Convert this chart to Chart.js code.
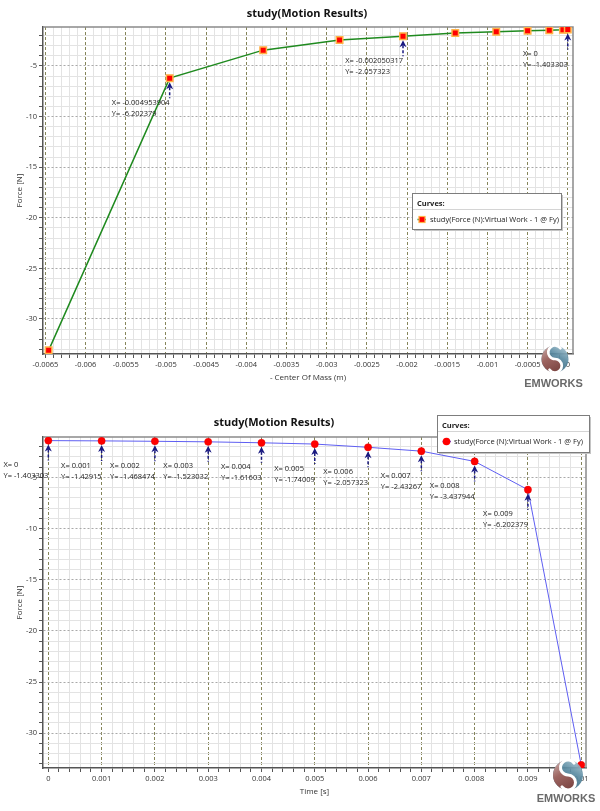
<!DOCTYPE html>
<html><head><meta charset="utf-8">
<script src="https://cdn.jsdelivr.net/npm/chart.js@4.4.1/dist/chart.umd.min.js"></script>
<style>
html,body{margin:0;padding:0;background:#fff;}
#wrap{position:relative;width:600px;height:811px;overflow:hidden;}
canvas{position:absolute;left:0;}
</style></head><body>
<div id="wrap">
<canvas id="c1" width="600" height="400" style="top:0;width:600px;height:400px"></canvas>
<canvas id="c2" width="600" height="411" style="top:400px;width:600px;height:411px"></canvas>
</div>
<script>
// ---- text ----
const chartTitle = 'study(Motion Results)';
const seriesLabel = 'study(Force (N):Virtual Work - 1 @ Fy)';
const legendHeader = 'Curves:';
const comAxisTitle = '- Center Of Mass (m)';
const timeAxisTitle = 'Time [s]';
const forceAxisTitle = 'Force [N]';
const logoText = 'EMWORKS';

// ---- data: chart 1 (force vs - center of mass) ----
const centerOfMass = [-0.00646, -0.004953904, -0.00379, -0.00284, -0.002050317, -0.0014, -0.00089, -0.0005, -0.00023, -0.00006, 0];
const forceByCom   = [-33.1, -6.202379, -3.437944, -2.43267, -2.057323, -1.74009, -1.61603, -1.523032, -1.468474, -1.42915, -1.403303];
const comAnnotated = [1, 4, 10];

// ---- data: chart 2 (force vs time) ----
const timeS       = [0, 0.001, 0.002, 0.003, 0.004, 0.005, 0.006, 0.007, 0.008, 0.009, 0.01];
const forceByTime = [-1.403303, -1.42915, -1.468474, -1.523032, -1.61603, -1.74009, -2.057323, -2.43267, -3.437944, -6.202379, -33.1];
const timeAnnotated = [0, 1, 2, 3, 4, 5, 6, 7, 8, 9];

// ---- axis ranges / ticks ----
const comAxis   = {min: -0.00653, max: 0.000065, minor: 0.0001, major: 0.0005};
const timeAxis  = {min: -0.0001, max: 0.01009, minor: 0.0002, major: 0.001};
const force1Axis = {min: -33.46, max: -1.15, minor: 1, major: 5};
const force2Axis = {min: -33.4, max: -1.05, minor: 1, major: 5};

const FONT = '"Open Sans","Noto Sans",sans-serif';
Chart.defaults.font.family = FONT;
Chart.defaults.color = '#333';

const fmtTick = v => String(parseFloat(Number(v).toFixed(7)));
const isMultiple = (v, step) => Math.abs(v / step - Math.round(v / step)) < 1e-6;

function axis(r, o) {
  return {
    type: 'linear',
    min: r.min, max: r.max,
    afterFit: s => { if (o.isY) s.width = o.size; else s.height = o.size; },
    grid: {
      color: c => (c.tick && isMultiple(c.tick.value, r.major)) ? o.majorColor : '#e3e3e3',
      lineWidth: 1,
      tickColor: '#555',
      tickLength: 4,
      tickWidth: 1,
      tickBorderDash: []
    },
    border: {
      display: true, color: '#555', width: 1.5,
      dash: c => (c.tick && isMultiple(c.tick.value, r.major)) ? o.majorDash : []
    },
    ticks: {
      stepSize: r.minor, autoSkip: false, includeBounds: false, maxTicksLimit: 1000,
      maxRotation: 0, minRotation: 0, padding: 2, color: '#333',
      font: {size: 7.5},
      callback: v => isMultiple(v, r.major) ? fmtTick(v) : ''
    },
    title: {display: true, text: o.title, color: '#333', font: {size: 8}, padding: o.titlePad}
  };
}

function drawLogo(ctx, L) {
  const {cx, cy, r} = L;
  ctx.save();
  ctx.globalAlpha = 0.92;
  const g2 = ctx.createLinearGradient(cx + r, cy - r, cx - r * 0.2, cy + r);
  g2.addColorStop(0, '#b9d0da'); g2.addColorStop(0.45, '#5b8ca3'); g2.addColorStop(1, '#2f5d74');
  ctx.beginPath(); ctx.arc(cx, cy, r, 0, Math.PI * 2); ctx.fillStyle = g2; ctx.fill();
  const g1 = ctx.createLinearGradient(cx - r, cy - r, cx + r * 0.3, cy + r);
  g1.addColorStop(0, '#d8b9b4'); g1.addColorStop(0.45, '#a4635d'); g1.addColorStop(1, '#7b3c37');
  ctx.beginPath();
  ctx.arc(cx, cy, r, -Math.PI / 2, Math.PI / 2, true);
  ctx.arc(cx, cy + r / 2, r / 2, Math.PI / 2, -Math.PI / 2, true);
  ctx.arc(cx, cy - r / 2, r / 2, Math.PI / 2, Math.PI * 1.5, false);
  ctx.closePath();
  ctx.fillStyle = g1; ctx.fill();
  ctx.globalAlpha = 1;
  ctx.strokeStyle = '#fff'; ctx.lineWidth = r * 0.2; ctx.lineCap = 'round';
  ctx.beginPath();
  ctx.arc(cx, cy - r / 2, r / 2, -Math.PI / 5, Math.PI / 2, true);
  ctx.arc(cx, cy + r / 2, r / 2, -Math.PI / 2, Math.PI * 0.8, false);
  ctx.stroke();
  ctx.font = 'bold 11px "Liberation Sans", Arial, sans-serif';
  ctx.fillStyle = '#6a6a6a'; ctx.textAlign = 'center'; ctx.textBaseline = 'middle';
  ctx.fillText(logoText, L.tx, L.ty);
  ctx.restore();
}

function makeDecor(cfg) {
  return {
    id: 'decor',
    beforeDatasetsDraw(chart) {
      const a = chart.chartArea, ctx = chart.ctx;
      ctx.save();
      ctx.strokeStyle = '#8a8a8a'; ctx.lineWidth = 1.5;
      ctx.beginPath(); ctx.moveTo(a.left, a.top); ctx.lineTo(a.right, a.top); ctx.lineTo(a.right, a.bottom); ctx.stroke();
      ctx.restore();
    },
    afterDatasetsDraw(chart) {
      const ctx = chart.ctx, xs = chart.scales.x, ys = chart.scales.y;
      const ds = chart.data.datasets[0];
      ctx.save();
      ctx.font = '7.5px ' + FONT;
      ctx.textBaseline = 'middle';
      cfg.annotate.forEach(i => {
        const p = ds.data[i];
        const px = xs.getPixelForValue(p.x), py = ys.getPixelForValue(p.y);
        // arrow
        const tip = py + 4;
        ctx.fillStyle = '#1a1a80'; ctx.strokeStyle = '#1a1a80';
        ctx.beginPath();
        ctx.moveTo(px, tip); ctx.lineTo(px + 3.5, tip + 7); ctx.lineTo(px, tip + 5); ctx.lineTo(px - 3.5, tip + 7);
        ctx.closePath(); ctx.fill();
        ctx.lineWidth = 1.5; ctx.setLineDash([3, 2]);
        ctx.beginPath(); ctx.moveTo(px, tip + 5); ctx.lineTo(px, tip + 16); ctx.stroke();
        ctx.setLineDash([]);
        // label
        const lines = ['X= ' + String(p.x), 'Y= ' + String(p.y)];
        const w = Math.max(...lines.map(t => ctx.measureText(t).width));
        ctx.fillStyle = '#222'; ctx.textAlign = 'left';
        lines.forEach((t, k) => ctx.fillText(t, px - w, py + 24.5 + k * 11));
      });
      ctx.restore();
    },
    afterDraw(chart) {
      const ctx = chart.ctx, ds = chart.data.datasets[0];
      ctx.save();
      // title
      ctx.font = 'bold 11px ' + FONT; ctx.fillStyle = '#111';
      ctx.textAlign = 'center'; ctx.textBaseline = 'middle';
      ctx.fillText(chartTitle, cfg.title.x, cfg.title.y);
      // legend box
      const L = cfg.legend;
      ctx.fillStyle = '#c4c4c4'; ctx.fillRect(L.x + 2, L.y + 2, L.w, L.h);
      ctx.fillStyle = '#fff'; ctx.fillRect(L.x, L.y, L.w, L.h);
      ctx.strokeStyle = '#7d7d7d'; ctx.lineWidth = 1; ctx.strokeRect(L.x + 0.5, L.y + 0.5, L.w, L.h);
      ctx.strokeStyle = '#d4d4d4'; ctx.beginPath(); ctx.moveTo(L.x + 1, L.y + 16.5); ctx.lineTo(L.x + L.w, L.y + 16.5); ctx.stroke();
      ctx.font = 'bold 7.5px ' + FONT; ctx.fillStyle = '#222'; ctx.textAlign = 'left';
      ctx.fillText(legendHeader, L.x + 5, L.y + 10.5);
      const iy = L.y + 26.5;
      ctx.strokeStyle = ds.borderColor; ctx.lineWidth = 1.5;
      ctx.beginPath(); ctx.moveTo(L.x + 5.5, iy); ctx.lineTo(L.x + 14, iy); ctx.stroke();
      ctx.fillStyle = ds.pointBackgroundColor;
      if (L.icon === 'rect') {
        ctx.fillRect(L.x + 7, iy - 3, 6, 6);
        ctx.strokeStyle = ds.pointBorderColor; ctx.lineWidth = 1.2; ctx.strokeRect(L.x + 7, iy - 3, 6, 6);
      } else {
        ctx.beginPath(); ctx.arc(L.x + 9.5, iy, 3.8, 0, Math.PI * 2); ctx.fill();
      }
      ctx.font = '7.5px ' + FONT; ctx.fillStyle = '#222';
      ctx.fillText(ds.label, L.x + L.textDx, iy);
      ctx.restore();
      drawLogo(ctx, cfg.logo);
    }
  };
}

new Chart(document.getElementById('c1'), {
  type: 'line',
  data: {datasets: [{
    label: seriesLabel,
    data: centerOfMass.map((x, i) => ({x, y: forceByCom[i]})),
    borderColor: '#1f8a1f', borderWidth: 1.5, tension: 0, fill: false,
    pointStyle: 'rect', pointRadius: 4.6, pointBackgroundColor: '#ff0000',
    pointBorderColor: '#ffb347', pointBorderWidth: 1.5
  }]},
  options: {
    responsive: false, animation: false, devicePixelRatio: 1,
    layout: {padding: {left: 0, top: 27, right: 27, bottom: 0}},
    scales: {
      x: axis(comAxis, {isY: false, size: 46, majorColor: '#85855a', majorDash: [3, 2], title: comAxisTitle, titlePad: {top: 0, bottom: 17.2}}),
      y: axis(force1Axis, {isY: true, size: 43, majorColor: '#a9a9a9', majorDash: [2, 2], title: forceAxisTitle, titlePad: {top: 15, bottom: 0}})
    },
    plugins: {legend: {display: false}, tooltip: {enabled: false}}
  },
  plugins: [makeDecor({
    title: {x: 307, y: 14},
    legend: {x: 412, y: 193, w: 149, h: 36, icon: 'rect', textDx: 18},
    annotate: comAnnotated,
    logo: {cx: 555, cy: 359, r: 13.5, tx: 553.5, ty: 384}
  })]
});

new Chart(document.getElementById('c2'), {
  type: 'line',
  data: {datasets: [{
    label: seriesLabel,
    data: timeS.map((x, i) => ({x, y: forceByTime[i]})),
    borderColor: '#5e5ef2', borderWidth: 1, tension: 0, fill: false,
    pointStyle: 'circle', pointRadius: 3.6, pointBackgroundColor: '#ff0000',
    pointBorderColor: '#e60000', pointBorderWidth: 0.5
  }]},
  options: {
    responsive: false, animation: false, devicePixelRatio: 1,
    layout: {padding: {left: 0, top: 37, right: 14, bottom: 0}},
    scales: {
      x: axis(timeAxis, {isY: false, size: 43, majorColor: '#85855a', majorDash: [3, 2], title: timeAxisTitle, titlePad: {top: 0, bottom: 14.2}}),
      y: axis(force2Axis, {isY: true, size: 43, majorColor: '#a9a9a9', majorDash: [2, 2], title: forceAxisTitle, titlePad: {top: 15, bottom: 0}})
    },
    plugins: {legend: {display: false}, tooltip: {enabled: false}}
  },
  plugins: [makeDecor({
    title: {x: 274, y: 23},
    legend: {x: 437, y: 15, w: 152, h: 37, icon: 'circle', textDx: 17},
    annotate: timeAnnotated,
    logo: {cx: 568, cy: 375, r: 15, tx: 566, ty: 399}
  })]
});
</script>
</body></html>
